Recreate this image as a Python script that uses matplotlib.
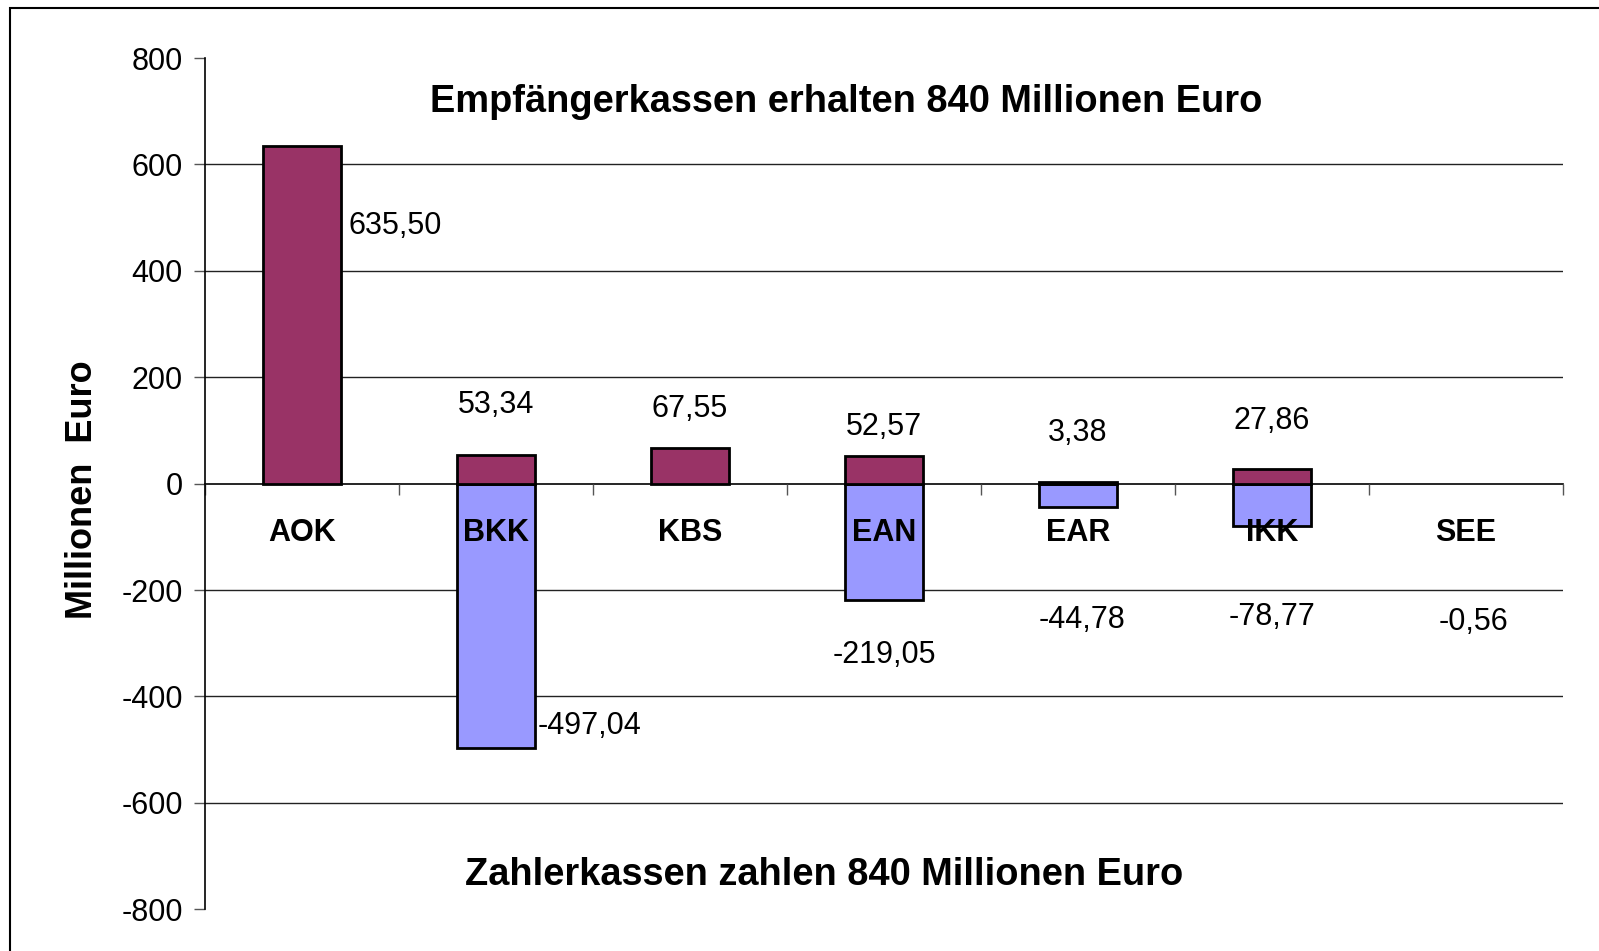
import matplotlib
matplotlib.use("Agg")
import matplotlib.pyplot as plt
from matplotlib.patches import Rectangle

plt.rcParams['font.family'] = ['Liberation Sans', 'DejaVu Sans']
plt.rcParams['axes.unicode_minus'] = False

# data
kassen = ["AOK", "BKK", "KBS", "EAN", "EAR", "IKK", "SEE"]
erhalten = [635.50, 53.34, 67.55, 52.57, 3.38, 27.86, 0.0]
zahlen = [0.0, -497.04, 0.0, -219.05, -44.78, -78.77, -0.56]

# where the value labels sit (x offset in categories, y in data units), None = no label
pos_label_dx = [0.48, 0, 0, 0, 0, 0, None]
pos_label_y = [485, 148, 140, 106, 96, 117, None]
neg_label_dx = [None, 0.48, None, 0, 0.02, 0, 0.04]
neg_label_y = [None, -456, None, -322, -257, -251, -260]
cat_label_y = -92


def fmt(v):
    return f"{v:.2f}".replace(".", ",")


fig = plt.figure(figsize=(15.99, 9.51), dpi=100)
ax = fig.add_axes([205 / 1599, 1 - 909.2 / 951, (1563 - 205) / 1599, (909.2 - 58.1) / 951])

x = list(range(len(kassen)))
# bars that are (almost) zero get no outline, like in the original
ax.bar(x, zahlen, width=0.4, color="#9999FF", edgecolor="black",
       linewidth=[0 if abs(v) < 1 else 2 for v in zahlen], zorder=2)
ax.bar(x, erhalten, width=0.4, color="#993366", edgecolor="black",
       linewidth=[0 if abs(v) < 1 else 2 for v in erhalten], zorder=2)

# axes styling
ax.set_xlim(-0.5, len(kassen) - 0.5)
ax.set_ylim(-800, 800)
ax.set_yticks(range(-800, 801, 200))
ax.tick_params(axis="y", labelsize=22, length=8, width=1, color="#555555", pad=8)
for s in ["top", "right"]:
    ax.spines[s].set_visible(False)
ax.spines["bottom"].set_position(("data", 0))
ax.spines["bottom"].set_linewidth(1.2)
ax.spines["bottom"].set_zorder(1)
ax.spines["left"].set_linewidth(1.2)
ax.set_xticks([i - 0.5 for i in range(len(kassen) + 1)])
ax.set_xticklabels([])
ax.tick_params(axis="x", length=8, width=1, color="#555555")

for yv in range(-600, 601, 200):
    if yv != 0:
        ax.axhline(yv, color="#222222", linewidth=1, zorder=0)

# category names
for i, k in enumerate(kassen):
    ax.text(i, cat_label_y, k, ha="center", va="center", fontsize=22, fontweight="bold", zorder=5)

# value labels
for i in x:
    if pos_label_dx[i] is not None:
        ax.text(i + pos_label_dx[i], pos_label_y[i], fmt(erhalten[i]),
                ha="center", va="center", fontsize=22, zorder=5)
    if neg_label_dx[i] is not None:
        ax.text(i + neg_label_dx[i], neg_label_y[i], fmt(zahlen[i]),
                ha="center", va="center", fontsize=22, zorder=5)

fig.text(846 / 1599, 1 - 102 / 951, "Empfängerkassen erhalten 840 Millionen Euro",
         ha="center", va="center", fontsize=27.4, fontweight="bold")
fig.text(824 / 1599, 1 - 875 / 951, "Zahlerkassen zahlen 840 Millionen Euro",
         ha="center", va="center", fontsize=27.4, fontweight="bold")
fig.text(82 / 1599, 1 - 490 / 951, "Millionen  Euro", rotation=90,
         ha="center", va="center", fontsize=26, fontweight="bold")

# outer frame of the chart area
fig.patches.append(Rectangle((10 / 1599, -0.1), 1.2, 1.1 - 8.5 / 951, transform=fig.transFigure,
                             fill=False, edgecolor="black", linewidth=1.5))

fig.savefig("out.png", dpi=100)
